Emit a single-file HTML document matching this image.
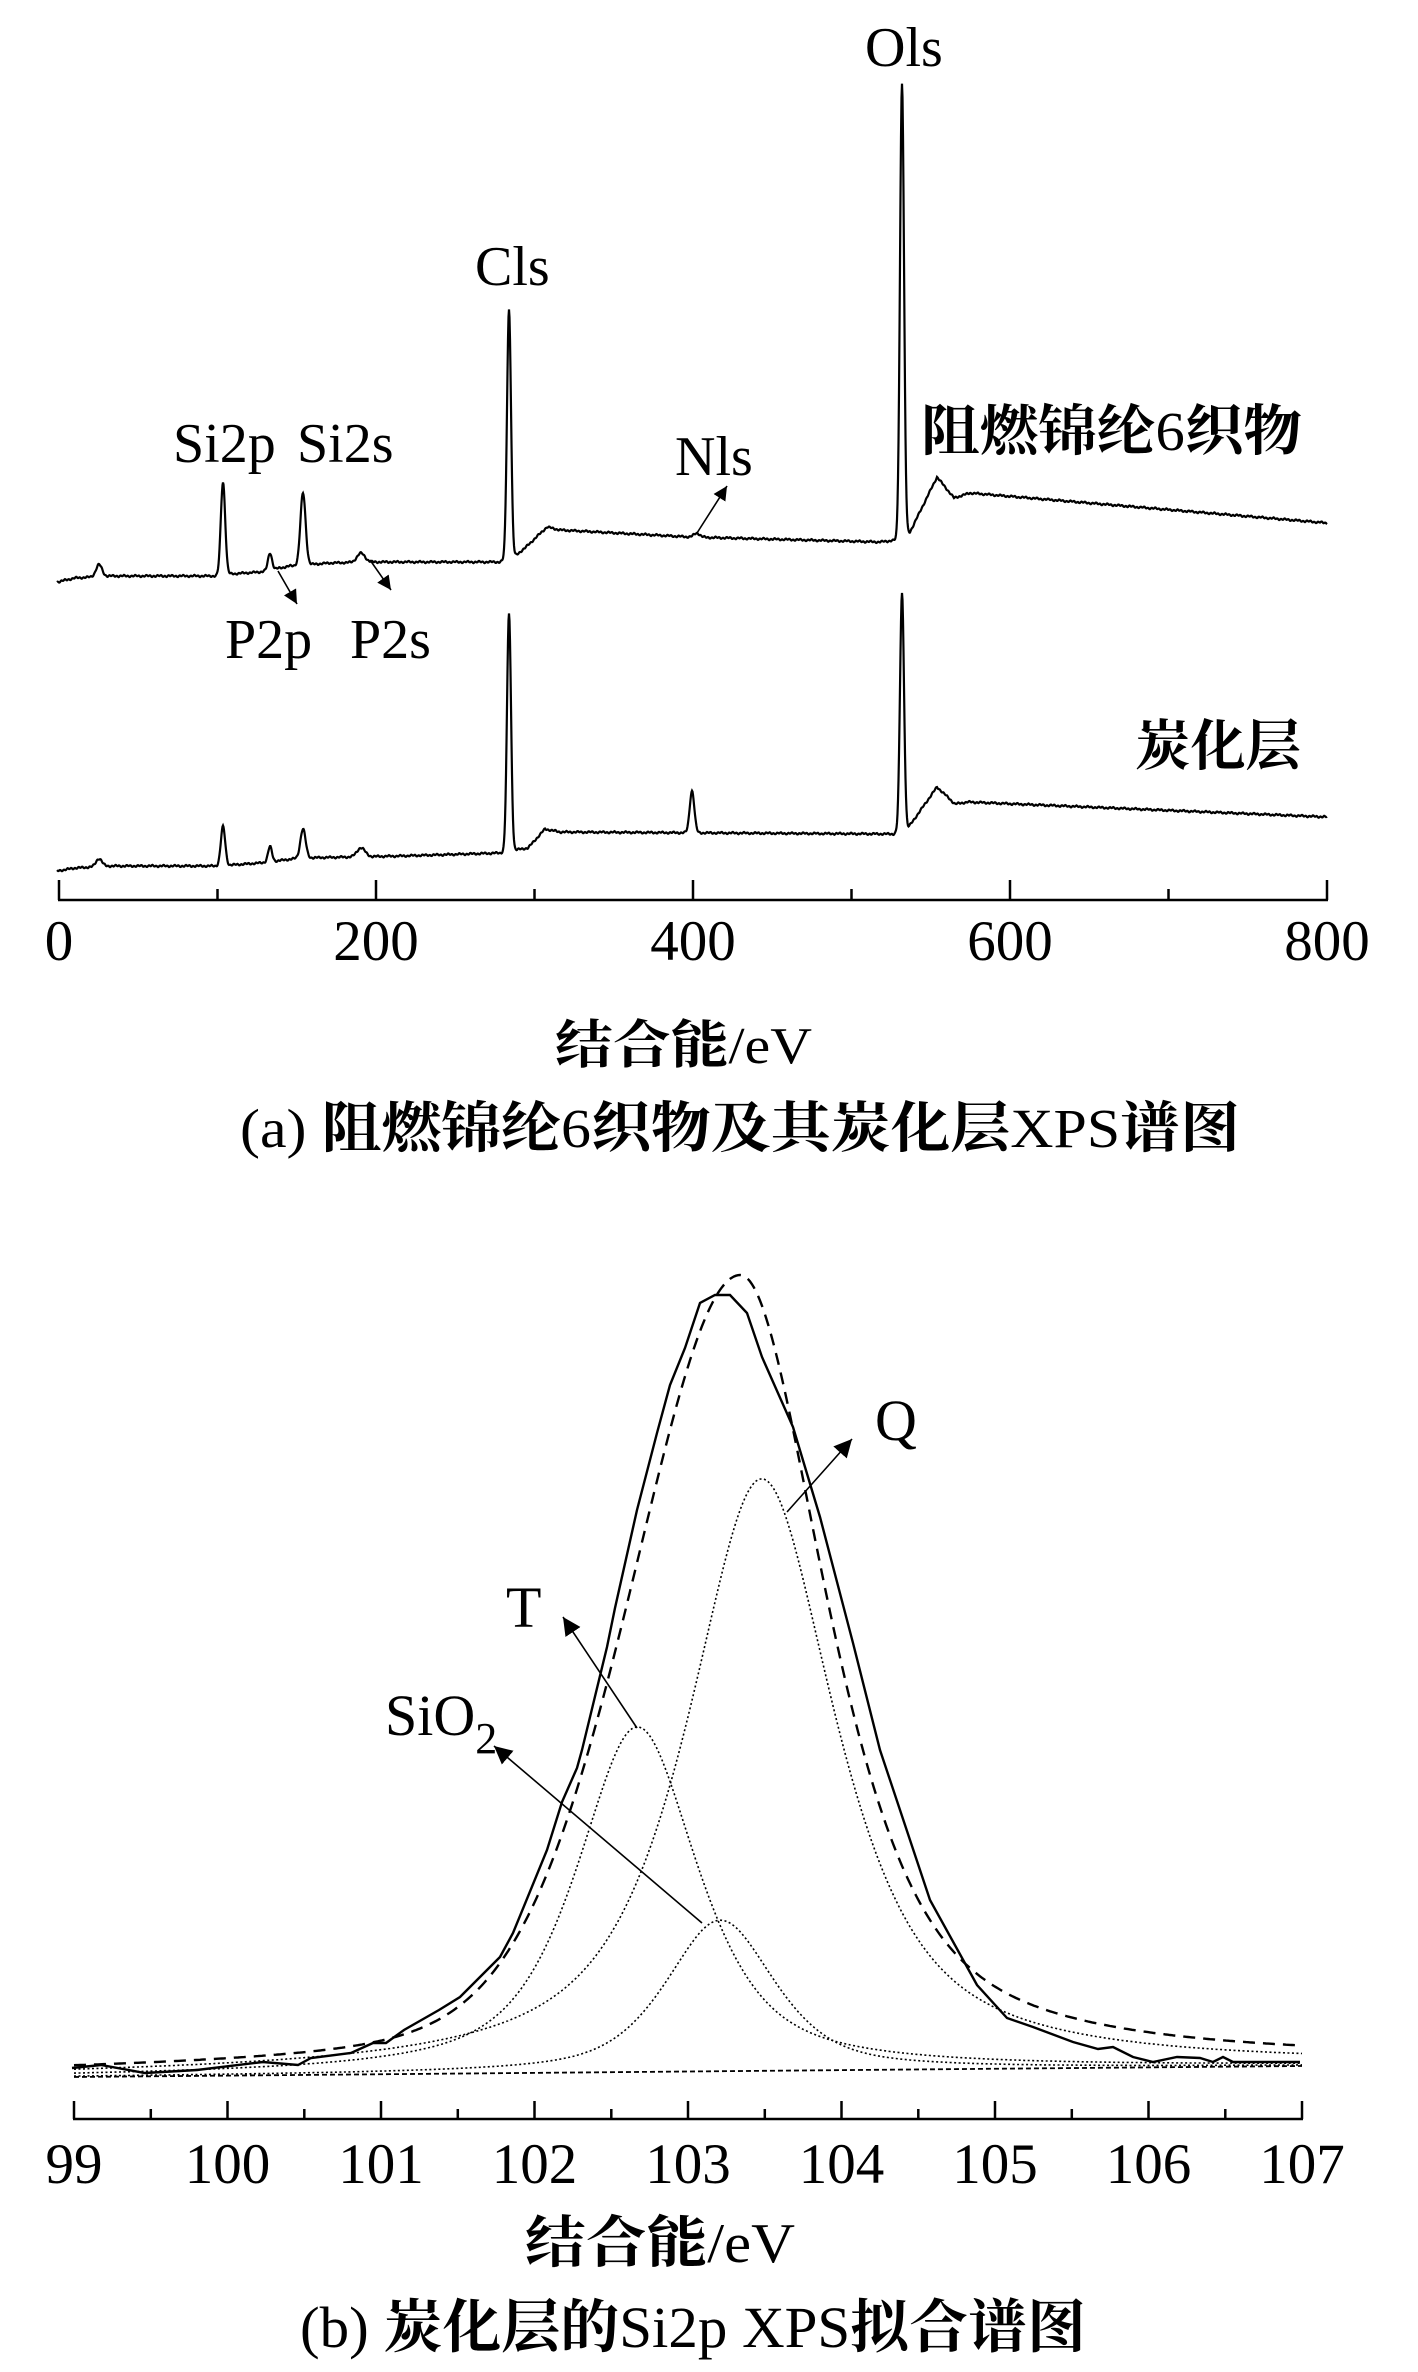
<!DOCTYPE html>
<html><head><meta charset="utf-8"><style>
html,body{margin:0;padding:0;background:#fff;}
svg{display:block;}
text{font-family:"Liberation Serif","Noto Serif CJK SC",serif;fill:#000;}
.cjk{font-family:"Liberation Serif","Noto Serif CJK SC",serif;font-weight:bold;}
.n{font-weight:normal;}
</style></head><body>
<svg id="s" width="1418" height="2372" viewBox="0 0 1418 2372" xmlns="http://www.w3.org/2000/svg">
<defs>
<marker id="ah" viewBox="0 0 10 10" refX="10" refY="5" markerWidth="14" markerHeight="14" markerUnits="userSpaceOnUse" orient="auto"><path d="M0,0 L10,5 L0,10 z" fill="#000"/></marker>
<marker id="ah2" viewBox="0 0 10 10" refX="10" refY="5" markerWidth="18" markerHeight="18" markerUnits="userSpaceOnUse" orient="auto"><path d="M0,0 L10,5 L0,10 z" fill="#000"/></marker>
</defs>
<g id="g" fill="none" stroke="#000"></g>
<g stroke="#000" stroke-width="2.5" fill="none">
<line x1="58" y1="900" x2="1328" y2="900"/>
<line x1="59" y1="900" x2="59" y2="880"/><line x1="376" y1="900" x2="376" y2="880"/><line x1="693" y1="900" x2="693" y2="880"/><line x1="1010" y1="900" x2="1010" y2="880"/><line x1="1327" y1="900" x2="1327" y2="880"/>
<line x1="217.5" y1="900" x2="217.5" y2="889"/><line x1="534.5" y1="900" x2="534.5" y2="889"/><line x1="851.5" y1="900" x2="851.5" y2="889"/><line x1="1168.5" y1="900" x2="1168.5" y2="889"/>
</g>
<g font-size="57" text-anchor="middle">
<text x="59" y="960">0</text><text x="376" y="960">200</text><text x="693" y="960">400</text><text x="1010" y="960">600</text><text x="1327" y="960">800</text>
</g>
<text class="cjk" x="555" y="1063" font-size="52" textLength="257" lengthAdjust="spacingAndGlyphs">结合能<tspan class="n">/eV</tspan></text>
<text class="cjk" x="240" y="1147" font-size="55" textLength="1000" lengthAdjust="spacingAndGlyphs"><tspan class="n">(a) </tspan>阻燃锦纶<tspan class="n">6</tspan>织物及其炭化层<tspan class="n">XPS</tspan>谱图</text>
<g font-size="56">
<text x="865" y="66">Ols</text>
<text x="475" y="285">Cls</text>
<text x="173" y="462">Si2p</text>
<text x="297" y="462">Si2s</text>
<text x="675" y="475">Nls</text>
<text x="225" y="658">P2p</text>
<text x="350" y="658">P2s</text>
</g>
<text class="cjk" x="921" y="450" font-size="55" textLength="381" lengthAdjust="spacingAndGlyphs">阻燃锦纶<tspan class="n">6</tspan>织物</text>
<text class="cjk" x="1135" y="765" font-size="55" textLength="166" lengthAdjust="spacingAndGlyphs">炭化层</text>
<g stroke="#000" stroke-width="1.6">
<line x1="697" y1="533" x2="727" y2="486" marker-end="url(#ah)"/>
<line x1="278" y1="571" x2="297" y2="604" marker-end="url(#ah)"/>
<line x1="370" y1="560" x2="391" y2="590" marker-end="url(#ah)"/>
</g>
<g id="bax" stroke="#000" stroke-width="2.5"></g>
<g id="blab" font-size="57" text-anchor="middle"></g>
<text class="cjk" x="525" y="2262" font-size="56" textLength="270" lengthAdjust="spacingAndGlyphs">结合能<tspan class="n">/eV</tspan></text>
<text class="cjk" x="300" y="2347" font-size="58" textLength="786" lengthAdjust="spacingAndGlyphs"><tspan class="n">(b) </tspan>炭化层的<tspan class="n">Si2p XPS</tspan>拟合谱图</text>
<g font-size="58">
<text x="875" y="1440">Q</text>
<text x="506" y="1627">T</text>
<text x="385" y="1735">SiO<tspan font-size="44" dy="18">2</tspan></text>
</g>
<g stroke="#000" stroke-width="1.6">
<line x1="787" y1="1512" x2="852" y2="1439" marker-end="url(#ah2)"/>
<line x1="637" y1="1728" x2="563" y2="1617" marker-end="url(#ah2)"/>
<line x1="702" y1="1923" x2="494" y2="1746" marker-end="url(#ah2)"/>
</g>
</svg>
<script>
(function(){
var NS="http://www.w3.org/2000/svg",g=document.getElementById('g');
function add(parent,d,attrs){var p=document.createElementNS(NS,'path');p.setAttribute('d',d);for(var k in attrs)p.setAttribute(k,attrs[k]);parent.appendChild(p);}
function interp(pts,x){if(x<=pts[0][0])return pts[0][1];for(var i=1;i<pts.length;i++){if(x<=pts[i][0]){var a=pts[i-1],b=pts[i];return a[1]+(b[1]-a[1])*(x-a[0])/(b[0]-a[0]);}}return pts[pts.length-1][1];}
function noise(x,s){return Math.sin(x*1.7+s)*0.6+Math.sin(x*0.53+s*2)*0.5;}
function spec(base,peaks,seed){var d='';for(var x=57;x<=1327;x+=0.5){var y=interp(base,x)+noise(x,seed);for(var i=0;i<peaks.length;i++){var p=peaks[i];y-=p[1]*Math.exp(-Math.pow(x-p[0],2)/(2*p[2]*p[2]));}d+=(x==57?'M':'L')+x.toFixed(1)+','+y.toFixed(1);}return d;}
var up=[[57,582],[75,578],[110,576],[217,576],[230,574],[260,572],[290,566],[330,563],[370,562],[450,562],[500,562],[515,556],[525,548],[547,527],[560,530],[690,537],[880,542],[897,540],[905,535],[910,532],[937,477],[954,498],[970,493],[1327,523]];
var upP=[[99,12,3],[223,93,2.2],[270,17,2],[303,72,2.6],[361,9,4],[509,249,2],[697,4,3],[902,454,2]];
var lo=[[57,871],[75,868],[110,866],[217,866],[260,863],[300,858],[400,856],[500,853],[515,850],[528,848],[545,829],[560,832],[893,834],[900,832],[908,828],[937,787],[955,804],[968,802],[1327,817]];
var loP=[[99,8,3],[223,39,2.2],[270,15,2],[303,29,2.6],[361,9,4],[509,238,2],[692,42,2.3],[902,238,2]];
add(g,spec(up,upP,1),{'stroke-width':'2.2'});
add(g,spec(lo,loP,3),{'stroke-width':'2.2'});
function base(x){return 2077+(2066-2077)*(x-74)/(1302-74);}
function pv(d,w,eta){var t=(d/w)*(d/w);return eta/(1+t)+(1-eta)*Math.exp(-0.693*t);}
function comp(c,A,wl,wr,el,er){var s='';for(var x=74;x<=1302;x+=2){var E=99+(x-74)/153.5,d=E-c;var w=d<0?wl:wr,e=d<0?el:er;var y=base(x)-A*pv(Math.abs(d),w,e);s+=(x==74?'M':'L')+x+','+y.toFixed(1);}return s;}
var dot={'stroke-width':'1.6','stroke-dasharray':'2 2.5'};
add(g,'M74,2077 L1302,2066',{'stroke-width':'1.8','stroke-dasharray':'5 3'});
add(g,comp(103.48,592,0.58,0.58,0.8,0.8),dot);
add(g,comp(102.67,345,0.47,0.47,0.7,0.7),dot);
add(g,comp(103.21,151,0.42,0.42,0.6,0.6),dot);
var s='';for(var x=74;x<=1302;x+=2){var E=99+(x-74)/153.5,d=E-103.34;var y=(base(x)-3)-793*(d<0?pv(-d,0.85,0.3):pv(d,0.67,0.68));s+=(x==74?'M':'L')+x+','+y.toFixed(1);}
add(g,s,{'stroke-width':'2.4','stroke-dasharray':'12 8'});
var sp=[[72,2068],[101,2065],[145,2073],[197,2070],[263,2062],[298,2065],[311,2058],[351,2053],[373,2043],[386,2043],[404,2030],[439,2010],[460,1997],[500,1957],[513,1933],[547,1850],[562,1802],[577,1768],[582,1750],[607,1647],[615,1608],[637,1510],[657,1433],[670,1385],[685,1348],[700,1303],[715,1295],[730,1295],[747,1313],[762,1357],[793,1427],[820,1517],[853,1643],[880,1750],[905,1825],[930,1900],[977,1985],[1007,2018],[1033,2027],[1073,2042],[1098,2049],[1113,2047],[1133,2057],[1153,2062],[1177,2057],[1200,2058],[1213,2062],[1223,2057],[1233,2062],[1300,2062]];
var d2='';for(var i=0;i<sp.length;i++)d2+=(i?'L':'M')+sp[i][0]+','+sp[i][1];
add(g,d2,{'stroke-width':'2.4'});
var bax=document.getElementById('bax'),bl=document.getElementById('blab');
add(bax,'M73,2119 L1303,2119',{});
for(var k=0;k<=16;k++){var x=74+76.75*k;add(bax,'M'+x.toFixed(1)+',2119 L'+x.toFixed(1)+','+(k%2?2109:2101),{});}
for(var k=0;k<=8;k++){var t=document.createElementNS(NS,'text');t.setAttribute('x',(74+153.5*k).toFixed(1));t.setAttribute('y','2183');t.textContent=String(99+k);bl.appendChild(t);}
})();
</script>
</body></html>
